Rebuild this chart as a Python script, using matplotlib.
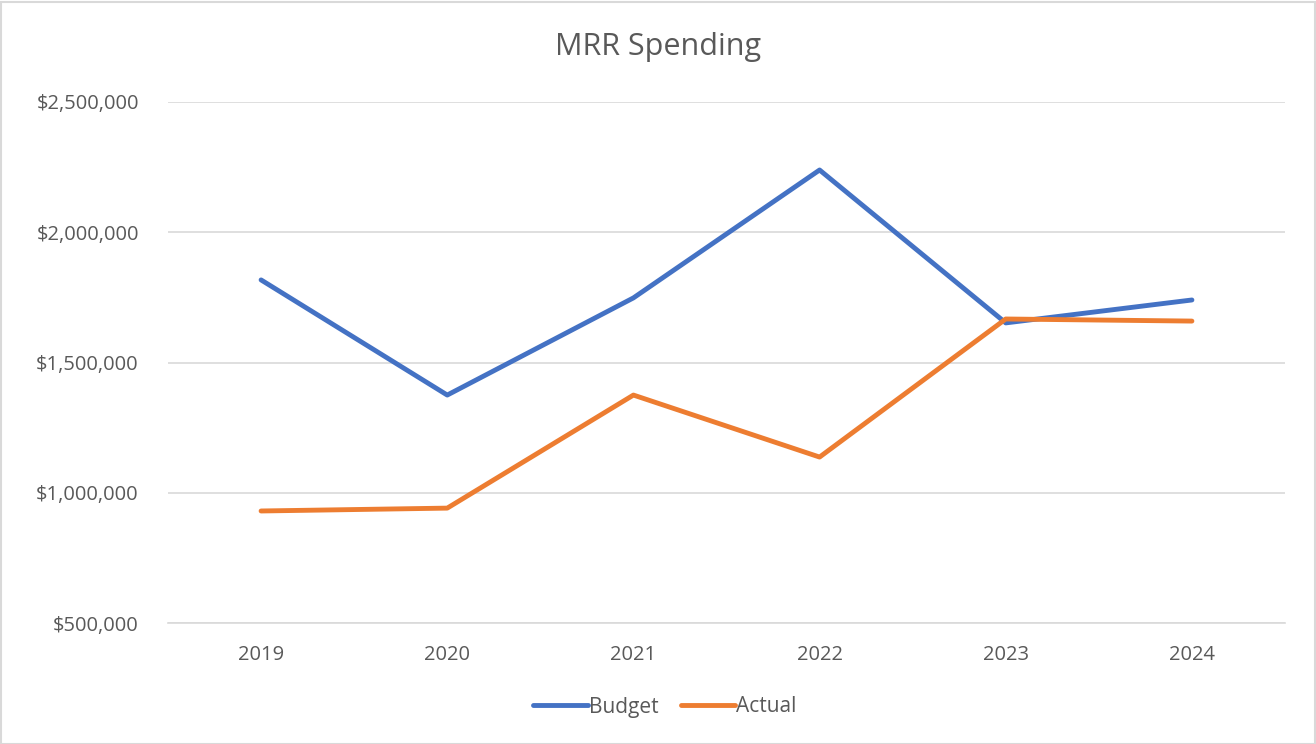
import matplotlib
matplotlib.use("Agg")
import matplotlib.pyplot as plt
from matplotlib.ticker import FuncFormatter
from matplotlib.patches import Rectangle

plt.rcParams['font.family'] = ['Open Sans', 'DejaVu Sans']

years = ['2019', '2020', '2021', '2022', '2023', '2024']
budget = [1817000, 1375000, 1748000, 2239000, 1652000, 1740000]
actual = [930000, 941000, 1375000, 1137000, 1667000, 1659000]

text_col = '#595959'
grid_col = '#D9D9D9'

fig = plt.figure(figsize=(13.16, 7.44), dpi=100)
ax = fig.add_axes([168/1316, 1 - 623/744, (1285-168)/1316, (623-102)/744])

x = range(len(years))
ax.plot(x, budget, color='#4472C4', lw=3.5, solid_capstyle='round', label='Budget', zorder=3)
ax.plot(x, actual, color='#ED7D31', lw=3.5, solid_capstyle='round', label='Actual', zorder=3)

ax.set_xlim(-0.5, len(years) - 0.5)
ax.set_ylim(500000, 2500000)
ax.set_yticks([500000, 1000000, 1500000, 2000000, 2500000])
ax.yaxis.set_major_formatter(FuncFormatter(lambda v, p: '${:,.0f}'.format(v)))
ax.set_xticks(list(x))
ax.set_xticklabels(years)
ax.grid(axis='y', color=grid_col, lw=1.2)
ax.set_axisbelow(True)
for s in ['top', 'right', 'left']:
    ax.spines[s].set_visible(False)
ax.spines['bottom'].set_color(grid_col)
ax.spines['bottom'].set_linewidth(1.2)
ax.tick_params(length=0, labelsize=14.5, colors=text_col)
ax.tick_params(axis='x', pad=16)
ax.tick_params(axis='y', pad=21)

fig.text(0.5, 1 - 47/744, 'MRR Spending', ha='center', va='center', fontsize=22, color=text_col)

leg = fig.legend(loc='center', bbox_to_anchor=(665/1316, 1 - 707/744), ncol=2, frameon=False,
                 fontsize=15, handlelength=2.6, handletextpad=0.05, columnspacing=1.1)
for t in leg.get_texts():
    t.set_color(text_col)

fig.patches.append(Rectangle((0.5/1316, 0.5/744), 1 - 2/1316, 1 - 2/744, transform=fig.transFigure,
                             fill=False, edgecolor='#D9D9D9', lw=1.5))

fig.savefig('out.png', dpi=100)
